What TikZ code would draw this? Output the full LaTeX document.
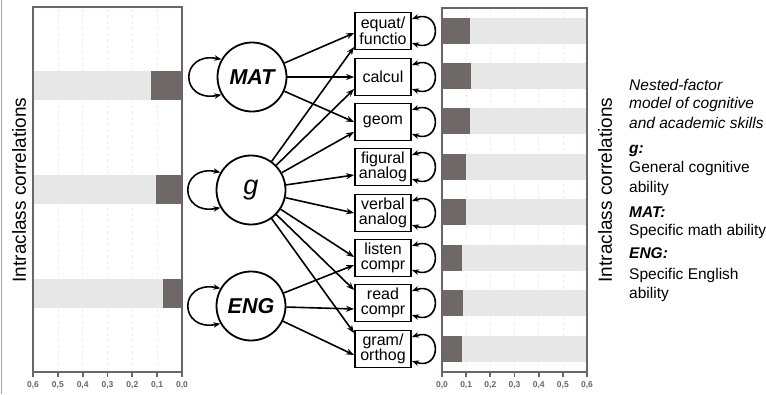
\documentclass[tikz,border=0pt]{standalone}
\usepackage{fontspec}
\setmainfont{Liberation Sans}
\usetikzlibrary{arrows.meta}
\definecolor{framecol}{HTML}{6B6665}
\definecolor{darkbar}{HTML}{6E6867}
\definecolor{lightbar}{HTML}{E7E7E7}
\definecolor{ticktext}{HTML}{666666}
\begin{document}
\begin{tikzpicture}[x=1pt,y=-1pt,
  arr/.style={line width=1.6pt,-{Stealth[length=8pt,width=6pt]}},
  selfloop/.style={line width=1.6pt,{Stealth[length=7pt,width=5.5pt]}-{Stealth[length=7pt,width=5.5pt]}},
  latent/.style={circle,draw,line width=1.8pt,minimum size=69pt,inner sep=0pt},
  obs/.style={draw,line width=1.8pt,minimum width=56pt,minimum height=37pt,inner sep=0pt,align=center,font=\fontsize{16}{15.5}\selectfont},
  chartframe/.style={draw=framecol,line width=2.6pt},
  gridline/.style={draw=black!7,line width=0.6pt,dashed},
  ticklab/.style={font=\fontsize{8.5}{8.5}\selectfont\bfseries,text=ticktext},
  axlabel/.style={rotate=90,font=\fontsize{19}{19}\selectfont},
  legend/.style={anchor=base west,inner sep=0pt,font=\fontsize{15.5}{15.5}\selectfont}]
\useasboundingbox (0,0) rectangle (766,394);
\fill[white] (0,0) rectangle (766,394);
\draw[black!35,line width=1.5pt] (1.5,0) -- (1.5,394);

% ---------- left chart ----------
\foreach \i in {1,...,5} \draw[gridline] (33+\i*24.83,9) -- (33+\i*24.83,370);
\fill[lightbar] (33,71) rectangle (182,100);
\fill[darkbar] (151,71) rectangle (182,100);
\fill[lightbar] (33,175) rectangle (182,204);
\fill[darkbar] (156,175) rectangle (182,204);
\fill[lightbar] (33,279) rectangle (182,308);
\fill[darkbar] (163,279) rectangle (182,308);
\draw[chartframe] (33,7) rectangle (182,372);
\foreach \i/\lab in {0/{0,6},1/{0,5},2/{0,4},3/{0,3},4/{0,2},5/{0,1},6/{0,0}} {
  \draw[framecol,line width=1.8pt] (33+\i*24.83,372) -- (33+\i*24.83,377);
  \node[ticklab] (tl\i) at (33+\i*24.83,385) {\lab};
}
\node[axlabel] (ylabL) at (19,190) {Intraclass correlations};

% ---------- right chart ----------
\foreach \i in {1,...,5} \draw[gridline] (442+\i*24.17,10) -- (442+\i*24.17,370);
\foreach \yc/\w in {30.5/28,75.5/29,121/28,167/24,212/24,258/20,303/21,348.5/20} {
  \fill[lightbar] (442,\yc-13) rectangle (587,\yc+13);
  \fill[darkbar] (442,\yc-13) rectangle (442+\w,\yc+13);
}
\draw[chartframe] (442,8) rectangle (587,372);
\foreach \i/\lab in {0/{0,0},1/{0,1},2/{0,2},3/{0,3},4/{0,4},5/{0,5},6/{0,6}} {
  \draw[framecol,line width=1.8pt] (442+\i*24.17,372) -- (442+\i*24.17,377);
  \node[ticklab] (tr\i) at (442+\i*24.17,385) {\lab};
}
\node[axlabel] (ylabR) at (605,190) {Intraclass correlations};

% ---------- latent factors ----------
\node[latent,font=\fontsize{21.5}{21.5}\selectfont\bfseries\itshape] (MAT) at (252,77) {MAT};
\node[latent,font=\fontsize{27}{27}\selectfont\itshape] (g) at (251,190) {g};
\node[latent,font=\fontsize{21.5}{21.5}\selectfont\bfseries\itshape] (ENG) at (251,306) {ENG};

% ---------- observed ----------
\node[obs] (eq) at (383,31) {equat/\\functio};
\node[obs] (calc) at (383,77) {calcul};
\node[obs] (geom) at (383,122) {geom};
\node[obs] (fig) at (383,167) {figural\\analog};
\node[obs] (verb) at (383,213) {verbal\\analog};
\node[obs] (listen) at (383,258) {listen\\compr};
\node[obs] (read) at (383,303) {read\\compr};
\node[obs] (gram) at (383,349) {gram/\\orthog};

% ---------- loadings ----------
\draw[arr] (MAT) -- ([yshift=-2pt]eq.west);
\draw[arr] (MAT) -- (calc.west);
\draw[arr] (MAT) -- (geom.west);
\draw[arr] (g) -- ([yshift=-16pt]eq.west);
\draw[arr] (g) -- ([yshift=-12pt]calc.west);
\draw[arr] (g) -- ([yshift=-10pt]geom.west);
\draw[arr] (g) -- ([yshift=-8pt]fig.west);
\draw[arr] (g) -- (verb.west);
\draw[arr] (g) -- ([yshift=1pt]listen.west);
\draw[arr] (g) -- ([yshift=13pt]read.west);
\draw[arr] (g) -- ([yshift=16pt]gram.west);
\draw[arr] (ENG) -- ([yshift=-7pt]listen.west);
\draw[arr] (ENG) -- ([yshift=-6pt]read.west);
\draw[arr] (ENG) -- ([yshift=-6pt]gram.west);

% ---------- variances ----------
\foreach \n in {MAT,g,ENG}
  \draw[selfloop] (\n.150) .. controls +(-42pt,8pt) and +(-42pt,-8pt) .. (\n.210);
\foreach \n in {eq,calc,geom,fig,verb,listen,read,gram}
  \draw[selfloop] ([yshift=12pt]\n.east) .. controls +(30pt,10pt) and +(30pt,-10pt) .. ([yshift=-12pt]\n.east);

% ---------- legend ----------
\node[legend,font=\fontsize{15.5}{15.5}\selectfont\itshape] (l1) at (629,90) {Nested-factor};
\node[legend,font=\fontsize{15.5}{15.5}\selectfont\itshape] (l2) at (629,108) {model of cognitive};
\node[legend,font=\fontsize{15.5}{15.5}\selectfont\itshape] (l3) at (629,128) {and academic skills};
\node[legend,font=\fontsize{15.5}{15.5}\selectfont\bfseries\itshape] (l4) at (629,153) {g:};
\node[legend] (l5) at (629,172) {General cognitive};
\node[legend] (l6) at (629,192) {ability};
\node[legend,font=\fontsize{15.5}{15.5}\selectfont\bfseries\itshape] (l7) at (629,217) {MAT:};
\node[legend] (l8) at (629,235) {Specific math ability};
\node[legend,font=\fontsize{15.5}{15.5}\selectfont\bfseries\itshape] (l9) at (629,258) {ENG:};
\node[legend] (l10) at (629,279) {Specific English};
\node[legend] (l11) at (629,298) {ability};
\end{tikzpicture}
\end{document}
